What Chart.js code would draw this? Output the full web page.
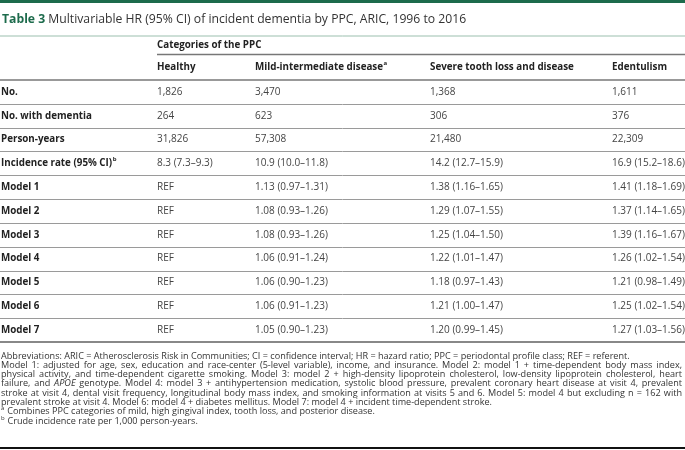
<!DOCTYPE html>
<html>
<head>
<meta charset="utf-8">
<script src="https://cdn.jsdelivr.net/npm/chart.js@4.4.1/dist/chart.umd.min.js"></script>
<style>
    body { margin: 0; background: #fff; }
    #wrap { width: 685px; height: 450px; }
</style>
</head>
<body>
<div id="wrap"><canvas id="tableau" width="685" height="450"></canvas></div>
<script>
//------------------------------ DONNEES DU TABLEAU ------------------------------

const titleNum = "Table 3";
const titleText = "Multivariable HR (95% CI) of incident dementia by PPC, ARIC, 1996 to 2016";
const groupLabel = "Categories of the PPC";

const categories = ["Healthy", "Mild-intermediate disease", "Severe tooth loss and disease", "Edentulism"];
const categoryNotes = ["", "a", "", ""];

const rowLabels = ["No.", "No. with dementia", "Person-years", "Incidence rate (95% CI)",
    "Model 1", "Model 2", "Model 3", "Model 4", "Model 5", "Model 6", "Model 7"];
const rowNotes = ["", "", "", "b", "", "", "", "", "", "", ""];

const healthy = ["1,826", "264", "31,826", "8.3 (7.3–9.3)", "REF", "REF", "REF", "REF", "REF", "REF", "REF"];
const mildIntermediate = ["3,470", "623", "57,308", "10.9 (10.0–11.8)", "1.13 (0.97–1.31)", "1.08 (0.93–1.26)",
    "1.08 (0.93–1.26)", "1.06 (0.91–1.24)", "1.06 (0.90–1.23)", "1.06 (0.91–1.23)", "1.05 (0.90–1.23)"];
const severeToothLoss = ["1,368", "306", "21,480", "14.2 (12.7–15.9)", "1.38 (1.16–1.65)", "1.29 (1.07–1.55)",
    "1.25 (1.04–1.50)", "1.22 (1.01–1.47)", "1.18 (0.97–1.43)", "1.21 (1.00–1.47)", "1.20 (0.99–1.45)"];
const edentulism = ["1,611", "376", "22,309", "16.9 (15.2–18.6)", "1.41 (1.18–1.69)", "1.37 (1.14–1.65)",
    "1.39 (1.16–1.67)", "1.26 (1.02–1.54)", "1.21 (0.98–1.49)", "1.25 (1.02–1.54)", "1.27 (1.03–1.56)"];

// "|" en fin de ligne = ligne justifiee
const footnotes = [
    "Abbreviations: ARIC = Atherosclerosis Risk in Communities; CI = confidence interval; HR = hazard ratio; PPC = periodontal profile class; REF = referent.",
    "Model 1: adjusted for age, sex, education and race-center (5-level variable), income, and insurance. Model 2: model 1 + time-dependent body mass index,|",
    "physical activity, and time-dependent cigarette smoking. Model 3: model 2 + high-density lipoprotein cholesterol, low-density lipoprotein cholesterol, heart|",
    "failure, and *APOE* genotype. Model 4: model 3 + antihypertension medication, systolic blood pressure, prevalent coronary heart disease at visit 4, prevalent|",
    "stroke at visit 4, dental visit frequency, longitudinal body mass index, and smoking information at visits 5 and 6. Model 5: model 4 but excluding n = 162 with|",
    "prevalent stroke at visit 4. Model 6: model 4 + diabetes mellitus. Model 7: model 4 + incident time-dependent stroke.",
    "^a Combines PPC categories of mild, high gingival index, tooth loss, and posterior disease.",
    "^b Crude incidence rate per 1,000 person-years."
];

//------------------------------ MISE EN PAGE ------------------------------

const columns = [rowLabels, healthy, mildIntermediate, severeToothLoss, edentulism];
const colX = [1, 157, 255, 430, 612]; // position des colonnes sur l'axe x (0 -> 685)
const FONT = "'Open Sans', sans-serif";
const VERT = "#1d6b4c";
const T_GRAS = 9.8;   // libelles en gras
const T_NORMAL = 10;  // valeurs
const T_NOTE = 9.1;   // notes de bas de tableau
const LARG_NOTE = 682;

// dessine un texte avec un exposant eventuel
function drawSup(ctx, x, y, text, sup, size, weight, color) {
    ctx.fillStyle = color;
    ctx.font = weight + " " + size + "px " + FONT;
    ctx.fillText(text, x, y);
    if (sup) {
        const w = ctx.measureText(text).width;
        ctx.font = weight + " " + Math.round(size * 0.65) + "px " + FONT;
        ctx.fillText(sup, x + w + 0.5, y - size * 0.4);
    }
}

// footnote : *...* en italique, ^x en exposant au debut, | = justifie
function drawFootnote(ctx, x, y, line, size, color) {
    ctx.fillStyle = color;
    let cx = x;
    const justify = line.endsWith("|");
    if (justify) line = line.slice(0, -1);
    if (line.startsWith("^")) {
        ctx.font = Math.round(size * 0.65) + "px " + FONT;
        ctx.fillText(line[1], cx, y - size * 0.35);
        cx += ctx.measureText(line[1]).width + 0.5;
        line = line.slice(2);
    }
    // decoupe en mots avec leur style
    const words = [];
    line.split("*").forEach((part, i) => {
        part.split(" ").forEach((w, j) => {
            if (j > 0) words.push({ t: " ", it: false, space: true });
            if (w) words.push({ t: w, it: i % 2 === 1 });
        });
    });
    const fontOf = w => (w.it ? "italic " : "") + size + "px " + FONT;
    let total = 0, nSpaces = 0;
    words.forEach(w => {
        ctx.font = fontOf(w);
        w.w = ctx.measureText(w.t).width;
        total += w.w;
        if (w.space) nSpaces++;
    });
    let extra = justify && nSpaces ? (LARG_NOTE - cx - total) / nSpaces : 0;
    if (extra < 0) extra = 0;
    words.forEach(w => {
        ctx.font = fontOf(w);
        if (!w.space) ctx.fillText(w.t, cx, y);
        cx += w.w + (w.space ? extra : 0);
    });
}

function hline(ctx, x1, x2, y, w, color) {
    ctx.strokeStyle = color;
    ctx.lineWidth = w;
    ctx.beginPath();
    ctx.moveTo(x1, y);
    ctx.lineTo(x2, y);
    ctx.stroke();
}

//------------------------------ PLUGIN DE DESSIN DU TABLEAU ------------------------------

const tablePlugin = {
    id: "tablePlugin",
    afterDraw(chart) {
        const ctx = chart.ctx;
        const xs = chart.scales.x;
        const ys = chart.scales.y;
        const left = xs.getPixelForValue(0);
        const right = xs.getPixelForValue(685);
        ctx.save();
        ctx.textBaseline = "middle";
        ctx.textAlign = "left";

        // bandeau vert + titre
        ctx.fillStyle = VERT;
        ctx.fillRect(left, 0, right - left, 3);
        ctx.font = "bold 12.2px " + FONT;
        ctx.fillStyle = VERT;
        ctx.fillText(titleNum, 2, 20);
        const tw = ctx.measureText(titleNum + " ").width;
        ctx.font = "12.2px " + FONT;
        ctx.fillStyle = "#333";
        ctx.fillText(titleText, 2 + tw, 20);
        hline(ctx, left, right, 36, 1, "#9bbfae");

        // entetes
        const top = ys.getPixelForValue(-0.5);
        ctx.font = "bold " + T_GRAS + "px " + FONT;
        ctx.fillStyle = "#222";
        ctx.fillText(groupLabel, xs.getPixelForValue(colX[1]), 45);
        hline(ctx, xs.getPixelForValue(colX[1]), right, 54.5, 1.5, "#777");
        categories.forEach((c, i) => {
            drawSup(ctx, xs.getPixelForValue(colX[i + 1]), 67, c, categoryNotes[i], T_GRAS, "bold", "#222");
        });
        hline(ctx, left, right, top, 1.5, "#777");

        // lignes du tableau
        rowLabels.forEach((lab, r) => {
            const y = ys.getPixelForValue(r);
            columns.forEach((col, c) => {
                const x = xs.getPixelForValue(colX[c]);
                if (c === 0) drawSup(ctx, x, y, lab, rowNotes[r], T_GRAS, "bold", "#222");
                else drawSup(ctx, x, y, col[r], "", T_NORMAL, "normal", "#444");
            });
            const yb = ys.getPixelForValue(r + 0.5);
            if (r < rowLabels.length - 1) hline(ctx, left, right, Math.round(yb) + 0.5, 1, "#9a9a9a");
            else hline(ctx, left, right, yb, 2, "#888");
        });

        // notes de bas de tableau
        const fy = ys.getPixelForValue(rowLabels.length - 0.5) + 14;
        footnotes.forEach((line, i) => {
            drawFootnote(ctx, 1, fy + i * 9.3, line, T_NOTE, "#333");
        });
        hline(ctx, left, right, 448, 2, "#111");
        ctx.restore();
    }
};

//------------------------------ GRAPHIQUE (axes invisibles) ------------------------------

const ctxTable = document.getElementById("tableau").getContext("2d");

new Chart(ctxTable, {
    type: "bar",
    plugins: [tablePlugin],
    data: {
        labels: rowLabels,
        datasets: [{ data: [], backgroundColor: "transparent" }]
    },
    options: {
        responsive: false,
        animation: false,
        indexAxis: "y",
        layout: { padding: { top: 80, bottom: 108, left: 0, right: 0 } },
        scales: {
            x: { type: "linear", min: 0, max: 685, display: false },
            y: { type: "category", labels: rowLabels, offset: true, display: false }
        },
        plugins: {
            legend: { display: false },
            tooltip: { enabled: false }
        }
    }
});
</script>
</body>
</html>
